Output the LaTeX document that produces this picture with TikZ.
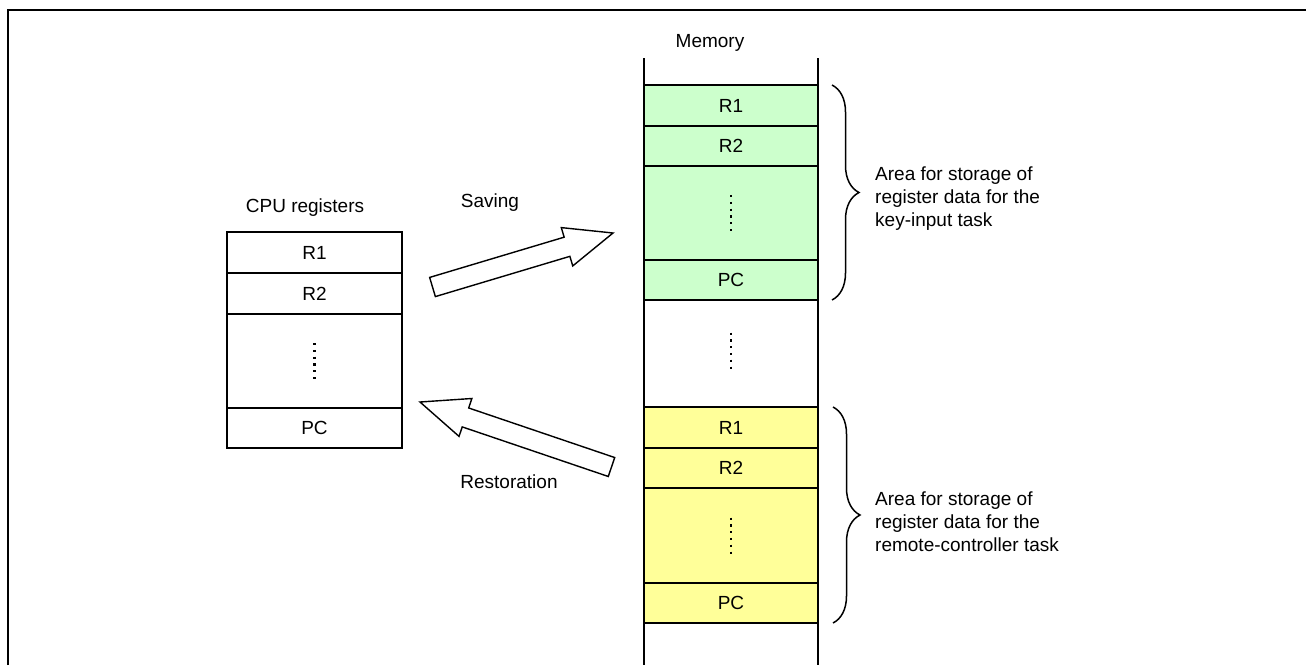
\documentclass[tikz,border=0pt]{standalone}
\usepackage{fontspec}
\setmainfont{Liberation Sans}
\usetikzlibrary{positioning,calc,decorations.pathreplacing}

\definecolor{keygreen}{HTML}{CCFFCC}
\definecolor{remyellow}{HTML}{FFFF99}

% block arrow from #1 to #2
\newcommand{\fatarrow}[2]{%
  \coordinate (#1hb) at ($(#2)!48pt!(#1)$);
  \draw[fat] ($(#1)!10pt!90:(#2)$) -- ($(#1hb)!10pt!90:(#2)$) -- ($(#1hb)!20pt!90:(#2)$) -- (#2)
    -- ($(#1hb)!20pt!-90:(#2)$) -- ($(#1hb)!10pt!-90:(#2)$) -- ($(#1)!10pt!-90:(#2)$) -- cycle;}

\begin{document}
\begin{tikzpicture}[x=1pt,y=-1pt,
  font=\fontsize{19}{23}\selectfont,
  cell/.style={draw,line width=1.3pt,minimum width=175pt,minimum height=41pt,inner sep=0pt,outer sep=0pt},
  memcell/.style={cell,minimum width=174pt},
  dotline/.style={line width=2.2pt,dash pattern=on 2.2pt off 4.6pt},
  fat/.style={line width=1.4pt,fill=white},
  brace/.style={decorate,decoration={brace,amplitude=27pt},line width=1.5pt},
  note/.style={anchor=west,align=left,inner sep=0pt}]

\useasboundingbox (0,0) rectangle (1306,665);
\draw[line width=2pt] (8,665) -- (8,10) -- (1306,10);

% CPU registers
\node[anchor=base] (cpulbl) at (305,212) {CPU registers};
\node[cell] (c1) at (314.5,252.5) {R1};
\node[cell,below=0pt of c1] (c2) {R2};
\node[cell,minimum height=94pt,below=0pt of c2] (cdots) {};
\node[cell,minimum height=40pt,below=0pt of cdots] (cpc) {PC};
\draw[dotline] ([yshift=18pt]cdots.center) -- ([yshift=-18pt]cdots.center);

% memory, key-input task
\node[anchor=base] (memlbl) at (710,47) {Memory};
\node[memcell,fill=keygreen] (g1) at (731,105.5) {R1};
\node[memcell,fill=keygreen,minimum height=40pt,below=0pt of g1] (g2) {R2};
\node[memcell,fill=keygreen,minimum height=94pt,below=0pt of g2] (gdots) {};
\node[memcell,fill=keygreen,minimum height=40pt,below=0pt of gdots] (gpc) {PC};
\draw[dotline] ([yshift=18pt]gdots.center) -- ([yshift=-18pt]gdots.center);

% memory, remote-controller task
\node[memcell,fill=remyellow] (y1) at (731,427.5) {R1};
\node[memcell,fill=remyellow,minimum height=40pt,below=0pt of y1] (y2) {R2};
\node[memcell,fill=remyellow,minimum height=95pt,below=0pt of y2] (ydots) {};
\node[memcell,fill=remyellow,minimum height=40pt,below=0pt of ydots] (ypc) {PC};
\draw[dotline] ([yshift=18pt]ydots.center) -- ([yshift=-18pt]ydots.center);

\coordinate (gap) at ($(gpc.south)!0.5!(y1.north)$);
\draw[dotline] ([yshift=21pt]gap) -- ([yshift=-15pt]gap);

\draw[line width=2pt] (644,58) -- (644,665) (818,58) -- (818,665);

% braces and notes
\draw[brace] ([xshift=14pt]g1.north east) -- ([xshift=14pt]gpc.south east);
\draw[brace] ([xshift=15pt]y1.north east) -- ([xshift=15pt]ypc.south east);
\node[note] (gnote) at (875,199) {Area for storage of\\register data for the\\key-input task};
\node[note] (ynote) at (875,522) {Area for storage of\\register data for the\\remote-controller task};

% saving / restoration
\coordinate (stail) at (432.5,287);
\coordinate (stip) at (613,233);
\coordinate (rtail) at (611.5,467);
\coordinate (rtip) at (420,402);
\fatarrow{stail}{stip}
\fatarrow{rtail}{rtip}
\node[anchor=base] (savelbl) at (490,207) {Saving};
\node[anchor=base] (restlbl) at (509,488) {Restoration};
\end{tikzpicture}
\end{document}
